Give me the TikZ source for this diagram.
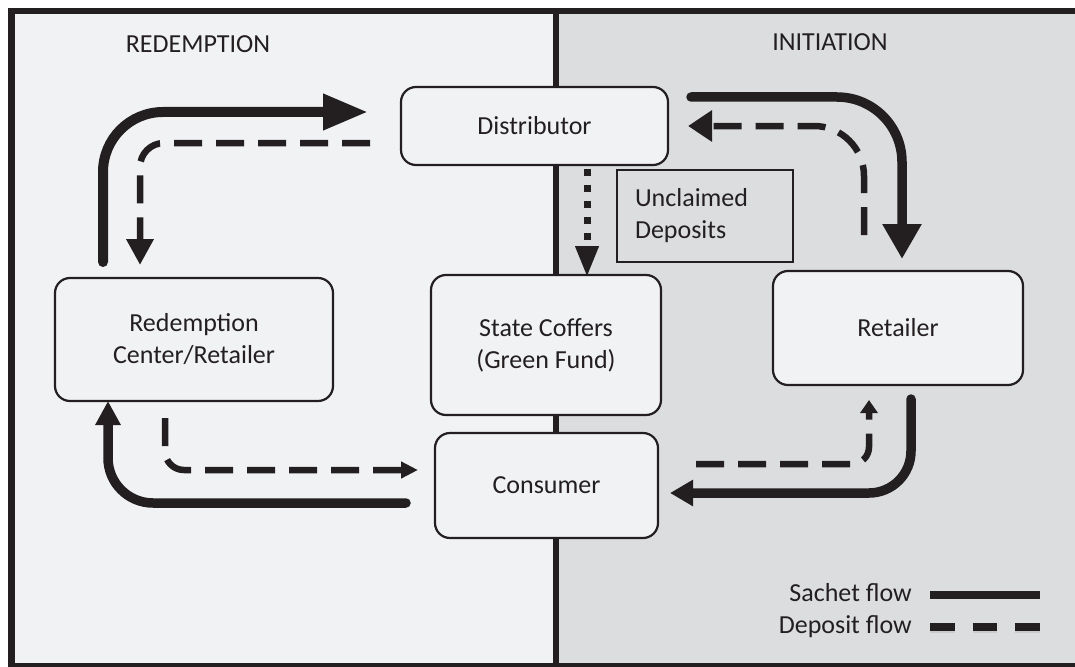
\documentclass[tikz,border=0pt]{standalone}
\usepackage{fontspec}
\setmainfont{Carlito}
\usetikzlibrary{arrows.meta}
\definecolor{lc}{HTML}{231F20}
\definecolor{leftbg}{HTML}{F1F2F4}
\definecolor{rightbg}{HTML}{DCDDDF}
\definecolor{boxfill}{HTML}{F1F2F4}
\newcommand{\diafont}{\fontsize{26}{32}\selectfont}
\tikzset{
  flowbox/.style={draw=lc, line width=2.2pt, fill=boxfill, rounded corners=15pt, align=center, font=\diafont, text=lc, inner sep=0pt},
  notebox/.style={draw=lc, line width=2.2pt, fill=rightbg, align=left, font=\diafont, text=lc, inner ysep=0pt, inner xsep=18pt},
  hdr/.style={font=\diafont, text=lc, inner sep=0pt},
  sachet/.style={draw=lc, line width=10pt, line cap=round},
  deposit/.style={draw=lc, line width=6.5pt, dash pattern=on 28pt off 14pt},
  dotflow/.style={draw=lc, line width=7pt, dash pattern=on 7pt off 9pt},
}
\begin{document}
\begin{tikzpicture}[x=1pt,y=-1pt]
\useasboundingbox (0,0) rectangle (1075,666);
% panels
\fill[leftbg] (11,11) rectangle (556,666);
\fill[rightbg] (556,11) rectangle (1090,666);
\draw[lc, line width=6.5pt] (11.5,11) rectangle (1090,666);
\draw[lc, line width=6.5pt] (556,11) -- (556,666);
% headers
\node[hdr] (hred) at (198,44) {REDEMPTION};
\node[hdr] (hini) at (830,42) {INITIATION};
% boxes
\node[flowbox, minimum width=267pt, minimum height=78pt] (dist) at (534.5,126) {Distributor};
\node[notebox, text width=140pt, minimum height=92pt] (uncl) at (705,216) {Unclaimed\\Deposits};
\node[flowbox, minimum width=230pt, minimum height=140pt] (state) at (546,345) {State Coffers\\(Green Fund)};
\node[flowbox, minimum width=278pt, minimum height=123pt] (red) at (194,339.5) {Redemption\\Center/Retailer};
\node[flowbox, minimum width=250pt, minimum height=114pt] (ret) at (898,328) {Retailer};
\node[flowbox, minimum width=223pt, minimum height=105pt] (cons) at (546.5,485.5) {Consumer};
% connector end points
\coordinate (a1) at (103,262);   \coordinate (a2) at (103,112);   \coordinate (a3) at (368,112);
\coordinate (b1) at (691,97);    \coordinate (b2) at (902,97);    \coordinate (b3) at (902,259);
\coordinate (c1) at (911,399);   \coordinate (c2) at (911,493);   \coordinate (c3) at (670,493);
\coordinate (d1) at (406,503);   \coordinate (d2) at (108,503);   \coordinate (d3) at (108,401);
\coordinate (e1) at (370,143);   \coordinate (e2) at (140,143);   \coordinate (e3) at (140,265);
\coordinate (f1) at (864,235);   \coordinate (f2) at (864,126);   \coordinate (f3) at (688,126);
\coordinate (g1) at (165,418);   \coordinate (g2) at (165,470);   \coordinate (g3) at (418,470);
\coordinate (h1) at (696,464);   \coordinate (h2) at (869,464);   \coordinate (h3) at (869,400);
\coordinate (u1) at (587,169);   \coordinate (u2) at (587,277);
% sachet flows
\draw[sachet, rounded corners=60pt, -{Triangle[length=45pt,width=34pt]}] (a1) -- (a2) -- (a3);
\draw[sachet, line width=9.5pt, rounded corners=65pt, -{Triangle[length=35pt,width=37pt]}] (b1) -- (b2) -- (b3);
\draw[sachet, line width=9.5pt, rounded corners=42pt, -{Triangle[length=23pt,width=25pt]}] (c1) -- (c2) -- (c3);
\draw[sachet, line width=9.5pt, rounded corners=45pt, -{Triangle[length=24pt,width=24pt]}] (d1) -- (d2) -- (d3);
% deposit flows
\draw[deposit, rounded corners=24pt, -{Triangle[length=26pt,width=26pt]}] (e1) -- (e2) -- (e3);
\draw[deposit, rounded corners=50pt, -{Triangle[length=24pt,width=30pt]}] (f1) -- (f2) -- (f3);
\draw[deposit, rounded corners=19pt, -{Triangle[length=17pt,width=16pt]}] (g1) -- (g2) -- (g3);
\draw[deposit, rounded corners=17pt, -{Triangle[length=13pt,width=17pt]}] (h1) -- (h2) -- (h3);
% unclaimed deposits
\draw[dotflow, -{Triangle[length=31pt,width=22pt]}] (u1) -- (u2);
% legend
\node[hdr, anchor=base east] (lgs) at (912,601) {Sachet flow};
\node[hdr, anchor=base east] (lgd) at (912,633) {Deposit flow};
\coordinate (ls1) at (930,595); \coordinate (ls2) at (1040,595);
\coordinate (ld1) at (930,627); \coordinate (ld2) at (1040,627);
\draw[lc, line width=8pt] (ls1) -- (ls2);
\draw[black!25, line width=6pt, opacity=0.6, dash pattern=on 24.5pt off 18pt] ([yshift=-3pt]ld1) -- ([yshift=-3pt]ld2);
\draw[lc, line width=8pt, dash pattern=on 24.5pt off 18pt] (ld1) -- (ld2);
\end{tikzpicture}
\end{document}
